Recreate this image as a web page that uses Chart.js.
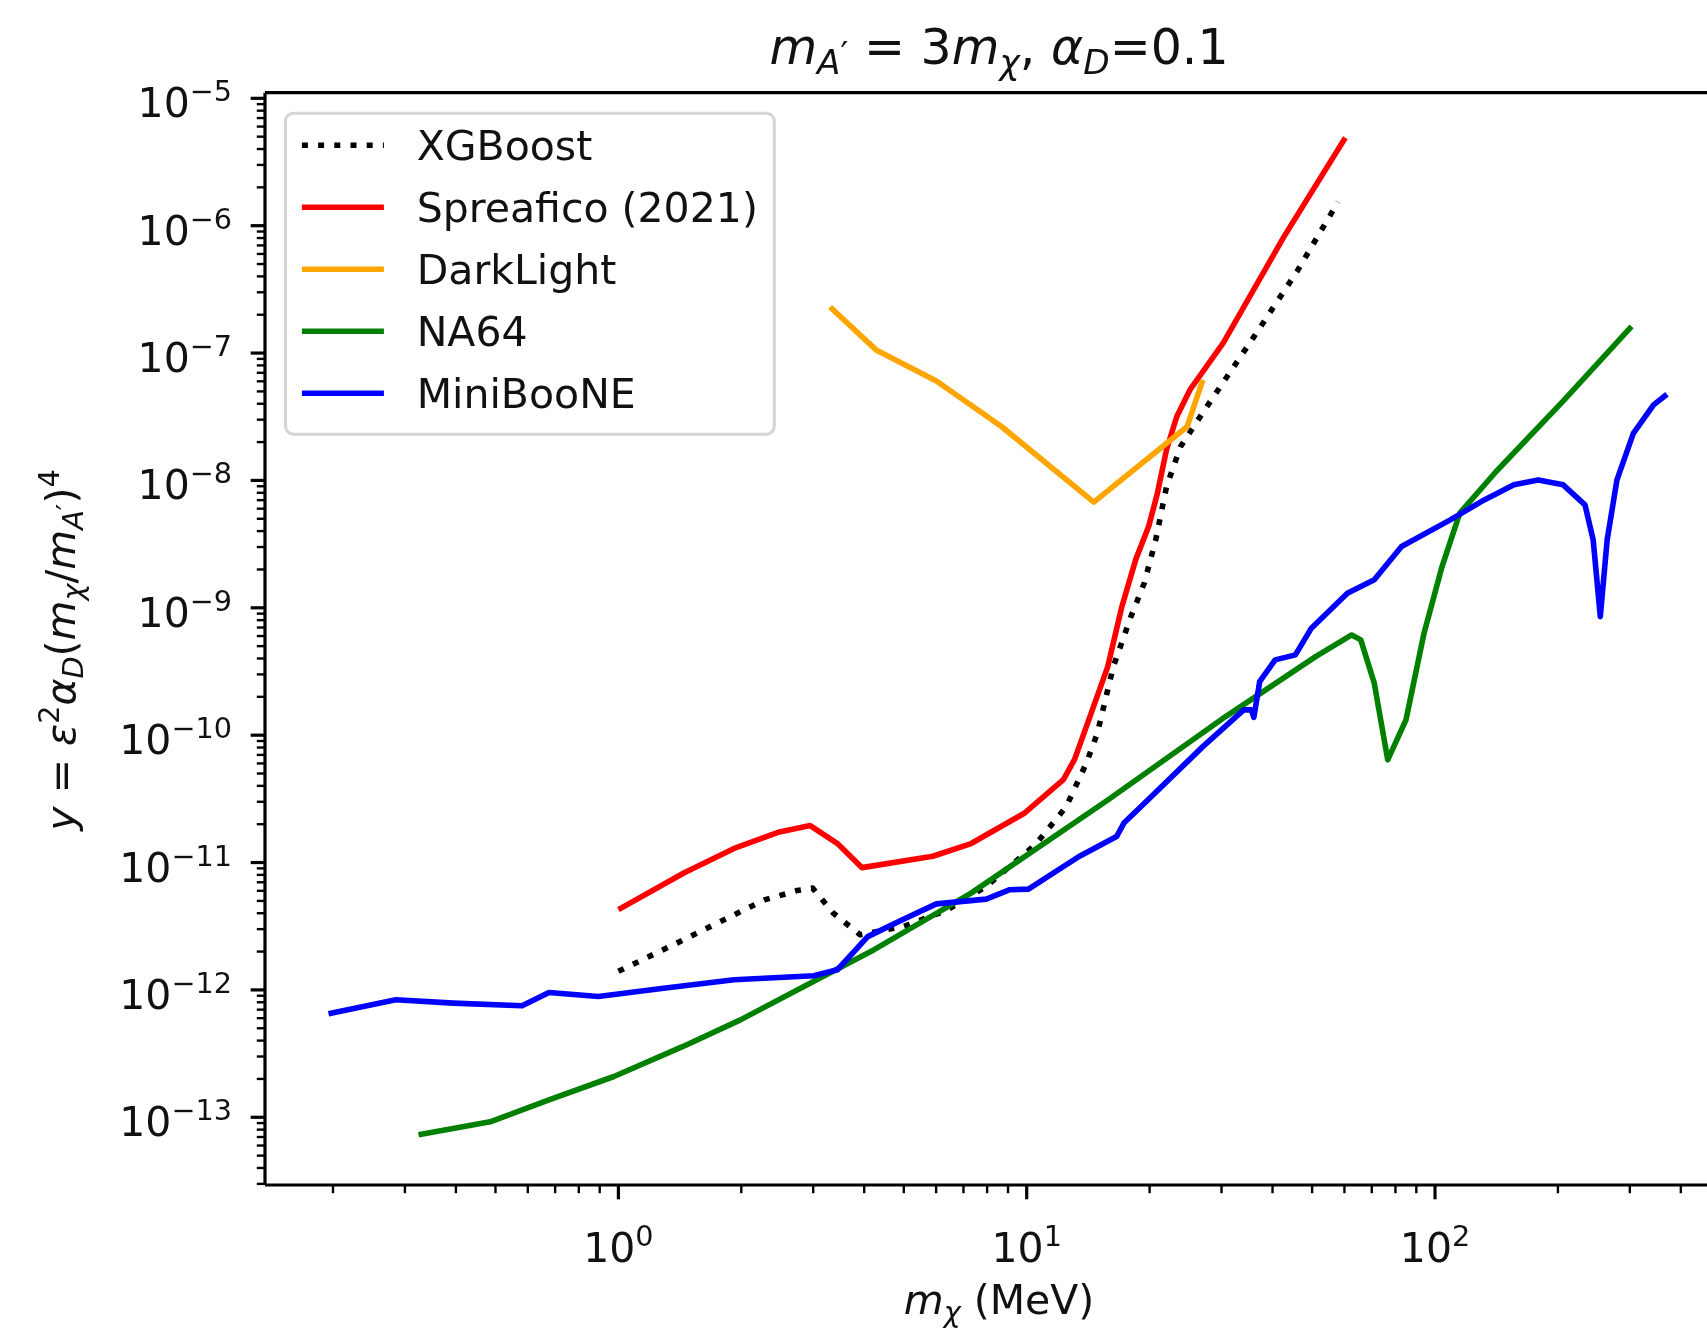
<!DOCTYPE html>
<html>
<head>
<meta charset="utf-8">
<title>m_A' = 3m_chi, alpha_D = 0.1</title>
<script src="https://cdn.jsdelivr.net/npm/chart.js@4.4.1/dist/chart.umd.min.js"></script>
<style>
  html, body { margin: 0; padding: 0; background: #fff; overflow: hidden; }
  #chart { display: block; }
</style>
</head>
<body>
<canvas id="chart" width="1707" height="1329"></canvas>
<script>
// ---- data: m_chi (MeV) and y = eps^2 alpha_D (m_chi/m_A')^4 ----
const xgbMass = [1.0, 1.39, 1.80, 2.28, 2.74, 2.99, 3.36, 3.91, 5.01, 6.35, 7.96, 10.5, 12.5, 14.0, 14.9, 16.3, 18.0, 19.4, 20.7, 22.0, 23.8, 27.5, 35.6, 45.9, 57.9];
const xgbY = [1.40e-12, 2.33e-12, 3.51e-12, 5.09e-12, 6.03e-12, 6.30e-12, 4.01e-12, 2.71e-12, 3.16e-12, 4.20e-12, 6.49e-12, 1.38e-11, 2.75e-11, 6.03e-11, 1.04e-10, 3.46e-10, 8.53e-10, 1.56e-9, 3.41e-9, 8.93e-9, 1.84e-8, 3.72e-8, 1.27e-7, 4.36e-7, 1.54e-6];

const spreMass = [1.0, 1.45, 1.92, 2.48, 2.95, 3.44, 3.95, 5.89, 7.31, 9.89, 12.3, 13.1, 14.3, 15.8, 17.1, 18.5, 19.9, 20.9, 22.0, 23.3, 25.1, 30.3, 42.6, 60.3];
const spreY = [4.27e-12, 8.32e-12, 1.29e-11, 1.74e-11, 1.95e-11, 1.41e-11, 9.12e-12, 1.12e-11, 1.41e-11, 2.45e-11, 4.47e-11, 6.46e-11, 1.41e-10, 3.47e-10, 1.02e-9, 2.40e-9, 4.37e-9, 7.94e-9, 1.74e-8, 3.16e-8, 5.13e-8, 1.20e-7, 8.13e-7, 4.90e-6];

const dlMass = [3.30, 4.29, 6.01, 8.69, 14.6, 24.7, 27.0];
const dlY = [2.30e-7, 1.05e-7, 6.04e-8, 2.64e-8, 6.76e-9, 2.64e-8, 6.17e-8];

const na64Mass = [0.324, 0.489, 0.676, 0.975, 1.44, 1.99, 3.06, 4.23, 7.31, 15.8, 30.7, 51.0, 62.5, 65.8, 71.0, 76.6, 84.9, 94.0, 104, 115, 141, 207, 303];
const na64Y = [7.29e-14, 9.27e-14, 1.37e-13, 2.09e-13, 3.60e-13, 5.82e-13, 1.20e-12, 2.07e-12, 5.75e-12, 3.10e-11, 1.40e-10, 4.14e-10, 6.12e-10, 5.60e-10, 2.56e-10, 6.40e-11, 1.32e-10, 6.32e-10, 2.10e-9, 5.53e-9, 1.17e-8, 4.27e-8, 1.62e-7];

const mbMass = [0.195, 0.285, 0.394, 0.581, 0.676, 0.893, 1.29, 1.92, 3.01, 3.44, 4.08, 4.96, 6.01, 7.96, 9.06, 10.1, 13.4, 16.6, 17.3, 20.0, 27.0, 34.0, 35.5, 36.0, 37.2, 40.6, 45.5, 49.8, 61.0, 71.0, 82.8, 109, 132, 156, 179, 206, 233, 244, 254, 264, 279, 306, 343, 370];
const mbY = [6.49e-13, 8.36e-13, 7.87e-13, 7.50e-13, 9.55e-13, 8.87e-13, 1.03e-12, 1.20e-12, 1.29e-12, 1.44e-12, 2.62e-12, 3.56e-12, 4.74e-12, 5.16e-12, 6.11e-12, 6.18e-12, 1.11e-11, 1.60e-11, 2.04e-11, 3.20e-11, 8.13e-11, 1.58e-10, 1.58e-10, 1.38e-10, 2.63e-10, 3.90e-10, 4.27e-10, 6.92e-10, 1.30e-9, 1.66e-9, 3.03e-9, 4.90e-9, 7.03e-9, 9.23e-9, 1.01e-8, 9.23e-9, 6.43e-9, 3.41e-9, 8.53e-10, 3.41e-9, 1.01e-8, 2.34e-8, 3.92e-8, 4.75e-8];

const seriesLabels = ['XGBoost', 'Spreafico (2021)', 'DarkLight', 'NA64', 'MiniBooNE'];
const seriesColors = ['#000000', '#ff0000', '#ffa500', '#008000', '#0000ff'];

// ---- axes / ticks ----
const xMin = 0.1363, xMax = 463.6;
const yMin = 2.94e-14, yMax = 1.107e-5;
const xMajorTicks = [1, 10, 100];
const xTickExp = ['0', '1', '2'];
const xDecades = [0.1, 1, 10, 100];
const yMajorTicks = [1e-13, 1e-12, 1e-11, 1e-10, 1e-9, 1e-8, 1e-7, 1e-6, 1e-5];
const yTickExp = ['\u221213', '\u221212', '\u221211', '\u221210', '\u22129', '\u22128', '\u22127', '\u22126', '\u22125'];
const yDecades = [1e-14, 1e-13, 1e-12, 1e-11, 1e-10, 1e-9, 1e-8, 1e-7, 1e-6];
const minorMult = [2, 3, 4, 5, 6, 7, 8, 9];

function minorTicks(decades, lo, hi) {
  const out = [];
  decades.forEach(d => minorMult.forEach(m => {
    const v = d * m;
    if (v >= lo && v <= hi) out.push(v);
  }));
  return out;
}
const xMinorTicks = minorTicks(xDecades, xMin, xMax);
const yMinorTicks = minorTicks(yDecades, yMin, yMax);

const FONT = '"DejaVu Sans", sans-serif';
const TXT = '#111111';

function pts(xs, ys) {
  return xs.map((x, i) => ({ x: x, y: ys[i] }));
}

// draw a run of mixed text pieces (italic / sub / superscript)
function drawRuns(ctx, runs, size, x, y, align, angle) {
  let total = 0;
  const parts = runs.map(r => {
    const fs = size * (r.s || 1);
    const font = (r.it ? 'italic ' : '') + fs + 'px ' + FONT;
    ctx.font = font;
    const w = ctx.measureText(r.t).width;
    total += w;
    return { t: r.t, font: font, w: w, dy: (r.dy || 0) * size };
  });
  ctx.save();
  ctx.translate(x, y);
  if (angle) ctx.rotate(angle);
  ctx.fillStyle = TXT;
  ctx.textAlign = 'left';
  ctx.textBaseline = 'alphabetic';
  let cx = align === 'center' ? -total / 2 : (align === 'right' ? -total : 0);
  parts.forEach(p => {
    ctx.font = p.font;
    ctx.fillText(p.t, cx, p.dy);
    cx += p.w;
  });
  ctx.restore();
}

// matplotlib-like frame, ticks, labels, title and legend
const mplDecor = {
  id: 'mplDecor',
  beforeDraw(chart) {
    const ctx = chart.ctx;
    ctx.save();
    ctx.fillStyle = '#ffffff';
    ctx.fillRect(0, 0, chart.width, chart.height);
    ctx.restore();
  },
  afterDraw(chart) {
    const ctx = chart.ctx;
    const a = chart.chartArea;
    const xs = chart.scales.x, ys = chart.scales.y;

    ctx.save();
    // spines
    ctx.strokeStyle = '#000';
    ctx.lineWidth = 3.2;
    ctx.beginPath();
    ctx.moveTo(a.left, a.top); ctx.lineTo(a.right + 2, a.top);
    ctx.moveTo(a.left, a.top); ctx.lineTo(a.left, a.bottom);
    ctx.moveTo(a.left, a.bottom); ctx.lineTo(a.right + 2, a.bottom);
    ctx.stroke();

    // ticks
    xs.ticks.forEach(t => {
      const px = xs.getPixelForValue(t.value);
      const len = t.major ? 14.3 : 8.2;
      ctx.lineWidth = t.major ? 3.2 : 2.4;
      ctx.beginPath(); ctx.moveTo(px, a.bottom); ctx.lineTo(px, a.bottom + len); ctx.stroke();
    });
    ys.ticks.forEach(t => {
      const py = ys.getPixelForValue(t.value);
      const len = t.major ? 14.3 : 8.2;
      ctx.lineWidth = t.major ? 3.2 : 2.4;
      ctx.beginPath(); ctx.moveTo(a.left, py); ctx.lineTo(a.left - len, py); ctx.stroke();
    });
    ctx.restore();

    // tick labels
    xMajorTicks.forEach((v, i) => {
      const px = xs.getPixelForValue(v);
      drawRuns(ctx, [{ t: '10' }, { t: xTickExp[i], s: 0.7, dy: -0.39 }], 41, px, 1262, 'center');
    });
    yMajorTicks.forEach((v, i) => {
      const py = ys.getPixelForValue(v);
      drawRuns(ctx, [{ t: '10' }, { t: yTickExp[i], s: 0.7, dy: -0.39 }], 41, a.left - 33, py + 19, 'right');
    });

    // axis labels
    drawRuns(ctx, [{ t: 'm', it: 1 }, { t: '\u03c7', it: 1, s: 0.7, dy: 0.2 }, { t: ' (MeV)' }], 41, 999, 1314, 'center');
    drawRuns(ctx, [
      { t: 'y', it: 1 }, { t: ' = ' }, { t: '\u03b5', it: 1 }, { t: '2', s: 0.7, dy: -0.39 },
      { t: '\u03b1', it: 1 }, { t: 'D', it: 1, s: 0.7, dy: 0.2 }, { t: '(' },
      { t: 'm', it: 1 }, { t: '\u03c7', it: 1, s: 0.7, dy: 0.2 }, { t: '/' },
      { t: 'm', it: 1 }, { t: 'A', it: 1, s: 0.7, dy: 0.2 }, { t: '\u2032', s: 0.7, dy: 0.05 },
      { t: ')' }, { t: '4', s: 0.7, dy: -0.39 }
    ], 41, 75, 650, 'center', -Math.PI / 2);

    // title
    drawRuns(ctx, [
      { t: 'm', it: 1 }, { t: 'A', it: 1, s: 0.7, dy: 0.2 }, { t: '\u2032', s: 0.7, dy: 0.05 },
      { t: ' = ' }, { t: '3' }, { t: 'm', it: 1 }, { t: '\u03c7', it: 1, s: 0.7, dy: 0.2 },
      { t: ', ' }, { t: '\u03b1', it: 1 }, { t: 'D', it: 1, s: 0.7, dy: 0.2 }, { t: '=0.1' }
    ], 49, 999, 64, 'center');

    // legend
    const fs = 41, pad = 16.4, handle = 82, gap = 32.8, pitch = 62;
    const left = a.left + 20.5, top = a.top + 20.5;
    ctx.save();
    ctx.font = fs + 'px ' + FONT;
    let maxW = 0;
    chart.data.datasets.forEach(d => { maxW = Math.max(maxW, ctx.measureText(d.label).width); });
    const w = pad + handle + gap + maxW + pad;
    const h = 321;
    ctx.beginPath();
    ctx.roundRect(left, top, w, h, 8);
    ctx.fillStyle = 'rgba(255,255,255,0.8)';
    ctx.fill();
    ctx.strokeStyle = '#d5d5d5';
    ctx.lineWidth = 3;
    ctx.stroke();
    chart.data.datasets.forEach((d, i) => {
      const cy = top + 32 + i * pitch;
      ctx.strokeStyle = d.borderColor;
      ctx.lineWidth = d.borderWidth;
      ctx.setLineDash(d.borderDash || []);
      ctx.lineCap = 'butt';
      ctx.beginPath();
      ctx.moveTo(left + pad, cy); ctx.lineTo(left + pad + handle, cy);
      ctx.stroke();
      ctx.setLineDash([]);
      ctx.fillStyle = TXT;
      ctx.font = fs + 'px ' + FONT;
      ctx.textBaseline = 'alphabetic';
      ctx.fillText(d.label, left + pad + handle + gap, cy + 15);
    });
    ctx.restore();
  }
};

const dataLists = [[xgbMass, xgbY], [spreMass, spreY], [dlMass, dlY], [na64Mass, na64Y], [mbMass, mbY]];
const datasets = dataLists.map((pair, i) => ({
  label: seriesLabels[i],
  data: pts(pair[0], pair[1]),
  borderColor: seriesColors[i],
  backgroundColor: seriesColors[i],
  borderWidth: 5.6,
  borderDash: i === 0 ? [6, 10.2] : [],
  borderJoinStyle: 'round',
  borderCapStyle: 'butt',
  pointRadius: 0,
  showLine: true,
  tension: 0,
  fill: false,
  order: 5 - i
}));

new Chart(document.getElementById('chart'), {
  type: 'scatter',
  data: { datasets: datasets },
  plugins: [mplDecor],
  options: {
    responsive: false,
    animation: false,
    devicePixelRatio: 1,
    layout: { padding: { left: 0, right: 0, top: 92.7, bottom: 0 } },
    plugins: { legend: { display: false }, tooltip: { enabled: false } },
    scales: {
      x: {
        type: 'logarithmic', min: xMin, max: xMax,
        grid: { display: false }, border: { display: false },
        ticks: { display: false },
        afterBuildTicks: s => {
          s.ticks = xMajorTicks.map(v => ({ value: v, major: true }))
            .concat(xMinorTicks.map(v => ({ value: v, major: false })));
        },
        afterFit: s => { s.height = 1329 - 1185; }
      },
      y: {
        type: 'logarithmic', min: yMin, max: yMax,
        grid: { display: false }, border: { display: false },
        ticks: { display: false },
        afterBuildTicks: s => {
          s.ticks = yMajorTicks.map(v => ({ value: v, major: true }))
            .concat(yMinorTicks.map(v => ({ value: v, major: false })));
        },
        afterFit: s => { s.width = 265; }
      }
    }
  }
});
</script>
</body>
</html>
